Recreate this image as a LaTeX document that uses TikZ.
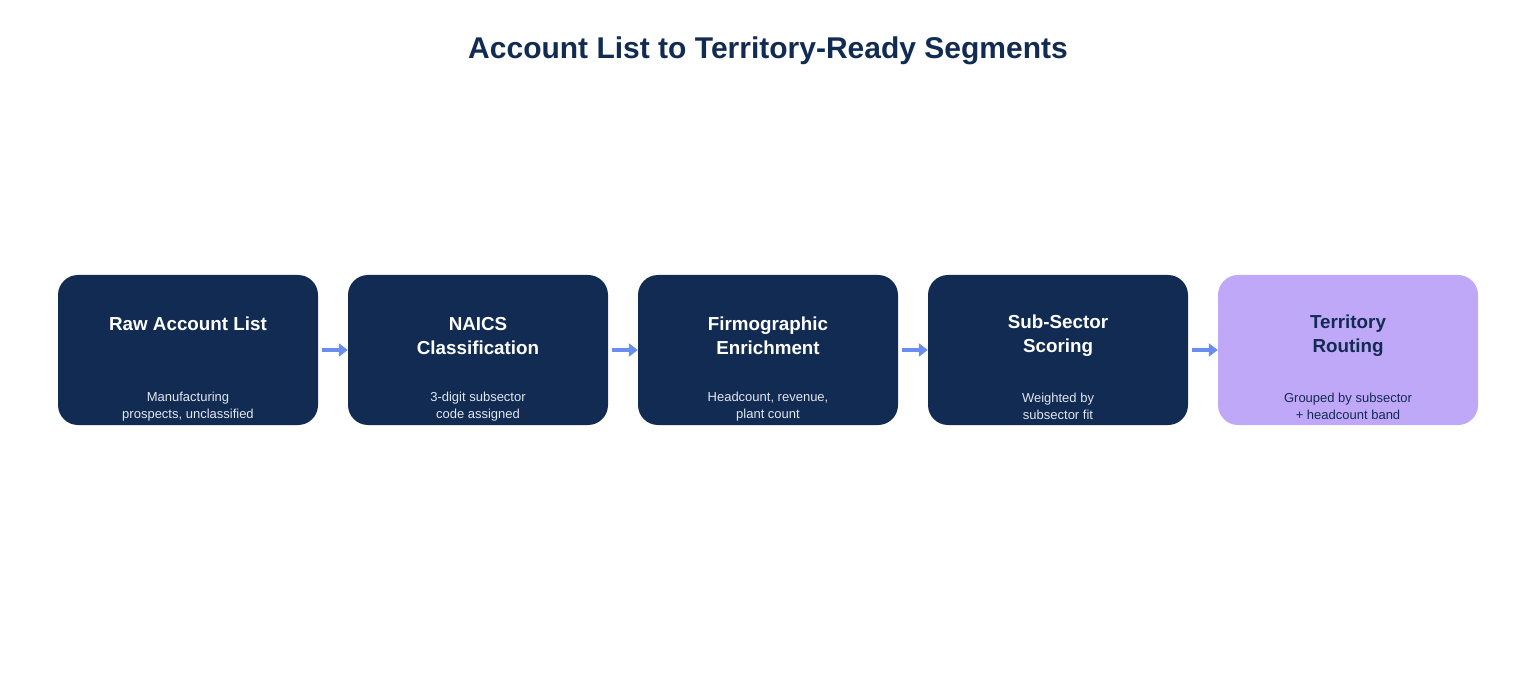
\documentclass[tikz,border=0pt]{standalone}
\usepackage{fontspec}
\setmainfont{Liberation Sans}
\usetikzlibrary{arrows.meta}
\definecolor{navy}{HTML}{112B52}
\definecolor{lav}{HTML}{C0A8F8}
\definecolor{arrowblue}{HTML}{6A8DF0}
\definecolor{subtxt}{HTML}{E2E6EE}
\tikzset{
  card/.style={draw=none, rounded corners=20pt, minimum width=260pt, minimum height=150pt, inner sep=0pt},
  darkcard/.style={card, fill=navy},
  lightcard/.style={card, fill=lav},
  headtxt/.style={font=\bfseries\fontsize{18.8}{24}\selectfont, align=center, inner sep=0pt},
  subtext/.style={font=\fontsize{13}{17}\selectfont, align=center, inner sep=0pt},
  flow/.style={-{Triangle[length=9pt,width=13pt]}, line width=3.5pt, arrowblue, shorten <=4pt}
}
\begin{document}
\begin{tikzpicture}[x=1pt,y=-1pt]
\useasboundingbox (0,0) rectangle (1536,700);
\node[font=\bfseries\fontsize{30}{34}\selectfont, text=navy] (title) at (768,51) {Account List to Territory-Ready Segments};

\node[darkcard] (b1) at (188,350) {};
\node[darkcard] (b2) at (478,350) {};
\node[darkcard] (b3) at (768,350) {};
\node[darkcard] (b4) at (1058,350) {};
\node[lightcard] (b5) at (1348,350) {};

\node[headtxt, text=white] (h1) at (188,324) {Raw Account List};
\node[headtxt, text=white] (h2) at (478,336) {NAICS\\Classification};
\node[headtxt, text=white] (h3) at (768,336) {Firmographic\\Enrichment};
\node[headtxt, text=white] (h4) at (1058,336) {Sub-Sector\\Scoring};
\node[headtxt, text=navy] (h5) at (1348,336) {Territory\\Routing};

\node[subtext, text=subtxt] (s1) at (188,406.5) {Manufacturing\\prospects, unclassified};
\node[subtext, text=subtxt] (s2) at (478,406.5) {3-digit subsector\\code assigned};
\node[subtext, text=subtxt] (s3) at (768,406.5) {Headcount, revenue,\\plant count};
\node[subtext, text=subtxt] (s4) at (1058,406.5) {Weighted by\\subsector fit};
\node[subtext, text=navy] (s5) at (1348,406.5) {Grouped by subsector\\+ headcount band};

\draw[flow] (b1.east) -- (b2.west);
\draw[flow] (b2.east) -- (b3.west);
\draw[flow] (b3.east) -- (b4.west);
\draw[flow] (b4.east) -- (b5.west);
\end{tikzpicture}
\end{document}
